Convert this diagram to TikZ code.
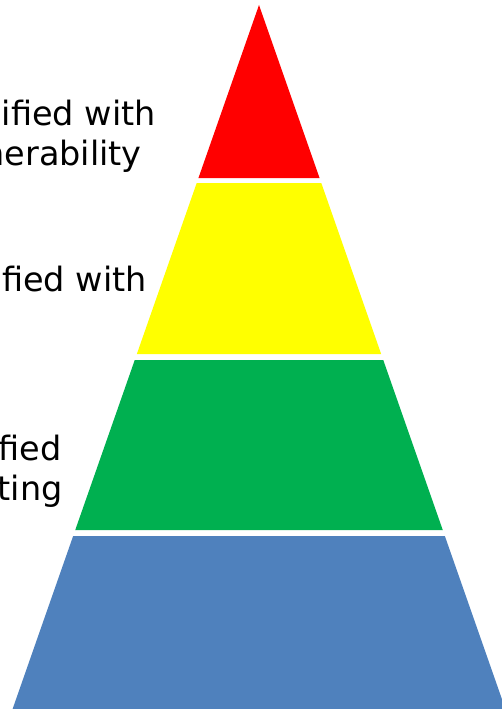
\documentclass[tikz,border=0pt]{standalone}
\usepackage{fontspec}
\setmainfont{DejaVu Sans}
\usepackage{tikz}
\usetikzlibrary{positioning}

\definecolor{pyrred}{RGB}{255,0,0}
\definecolor{pyryellow}{RGB}{255,255,0}
\definecolor{pyrgreen}{RGB}{0,176,80}
\definecolor{pyrblue}{RGB}{79,129,189}

\begin{document}
\begin{tikzpicture}[x=1pt,y=-1pt,
    lbl/.style={anchor=base east,inner sep=0pt,font=\fontsize{33.5}{40}\selectfont}]
    \useasboundingbox (0,0) rectangle (501,709);

    % Pyramide : quatre niveaux
    \foreach \col/\top/\bot in {pyrred/5/178,pyryellow/183/354,pyrgreen/360/530,pyrblue/536/712}{
        \fill[\col] ({259-0.35*(\top-5)},\top) -- ({259+0.35*(\top-5)},\top)
            -- ({259+0.35*(\bot-5)},\bot) -- ({259-0.35*(\bot-5)},\bot) -- cycle;
    }

    % Textes (coupés à gauche)
    \node[lbl] (redA) at (156,125) {ified with};
    \node[lbl] (redB) at (142,165) {nerability};
    \node[lbl] (yellowA) at (147,291) {fied with};
    \node[lbl] (greenA) at (62,460) {fied};
    \node[lbl] (greenB) at (63,500) {ting};
\end{tikzpicture}
\end{document}
